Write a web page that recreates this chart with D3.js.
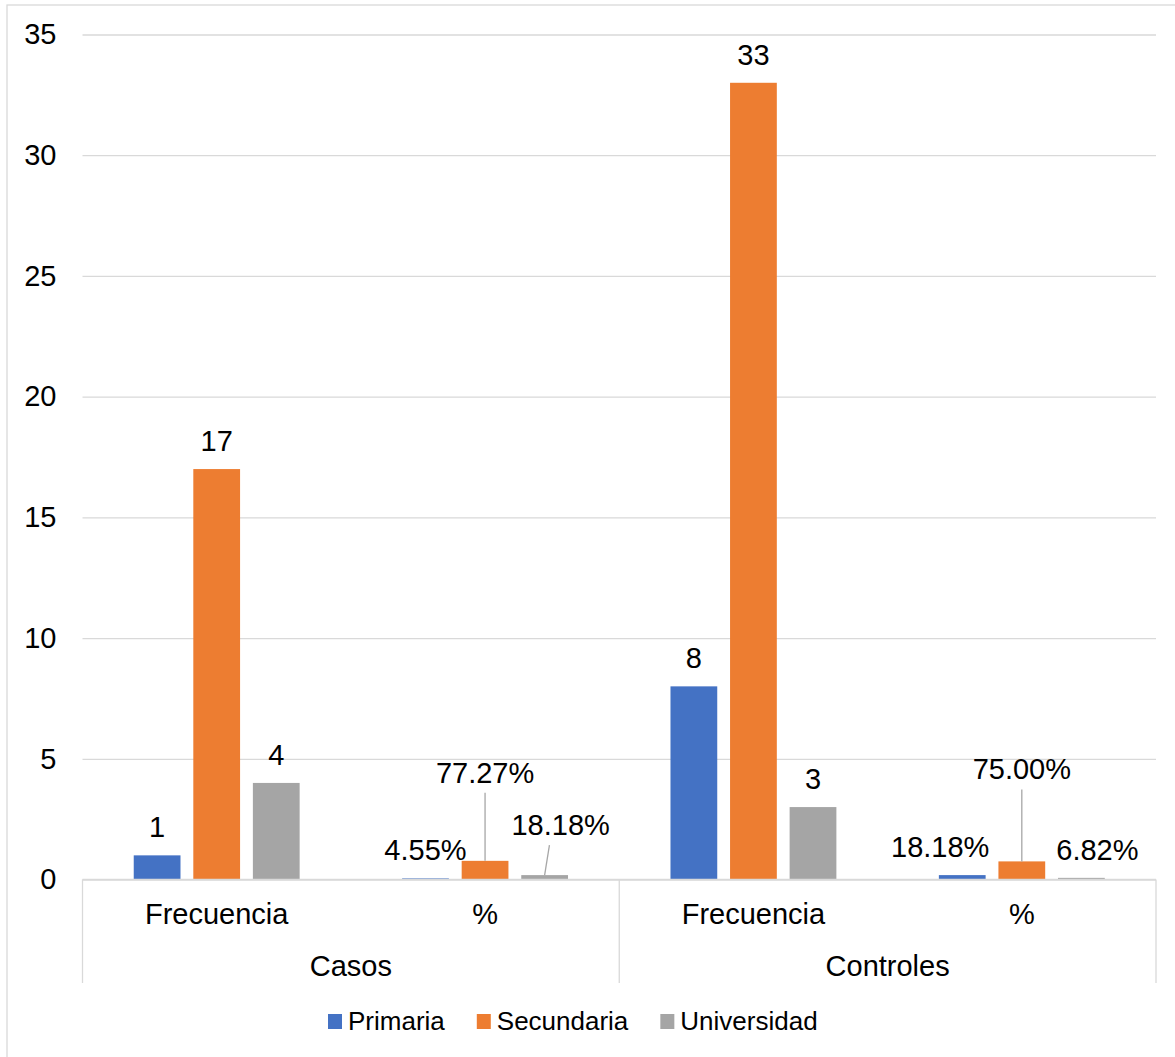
<!DOCTYPE html>
<html><head><meta charset="utf-8">
<script src="https://cdn.jsdelivr.net/npm/d3@7"></script>
<style>body{margin:0;background:#fff}svg{display:block;font-family:"Liberation Sans",Arial,sans-serif}</style>
</head><body><svg id="c" width="1175" height="1057"></svg>
<script>
const groups = ["Casos", "Controles"];
const subcats = ["Frecuencia", "%"];
const categories = ["Casos|Frecuencia", "Casos|%", "Controles|Frecuencia", "Controles|%"];
const series = ["Primaria", "Secundaria", "Universidad"];
const primaria = [1, 0.0455, 8, 0.1818];
const secundaria = [17, 0.7727, 33, 0.75];
const universidad = [4, 0.1818, 3, 0.0682];
const labelText = [
  ["1", "4.55%", "8", "18.18%"],
  ["17", "77.27%", "33", "75.00%"],
  ["4", "18.18%", "3", "6.82%"]
];
const yTicks = [0, 5, 10, 15, 20, 25, 30, 35];
const colors = ["#4472C4", "#ED7D31", "#A5A5A5"];
// manual label placement offsets (style): [seriesIdx][catIdx] -> [dx, dy, leader]
const labelOffsets = [
  [[0,0,0],[0,0,0],[0,0,0],[-22,0,0]],
  [[0,0,0],[0,-60,1],[0,0,0],[0,-64,1]],
  [[0,0,0],[16,-22,1],[0,0,0],[16,0,0]]
];
const values = [primaria, secundaria, universidad];

const svg = d3.select("#c");
const L = 82.5, R = 1156, T = 34.5, B = 879.5;
const FS = 29;

svg.append("rect").attr("x", 7).attr("y", 5).attr("width", 1190).attr("height", 1070)
  .attr("fill", "#fff").attr("stroke", "#d9d9d9").attr("stroke-width", 1.3);

const y = d3.scaleLinear().domain([0, 35]).range([B, T]);
const x0 = d3.scaleBand().domain(categories).range([L, R]).padding(0);
const x1 = d3.scaleBand().domain(series).range([0, x0.bandwidth()]).paddingInner(0.215).paddingOuter(0.86);

// gridlines
const yAxis = d3.axisLeft(y).tickValues(yTicks).tickSize(-(R - L)).tickPadding(26).tickFormat(d3.format("d"));
const ga = svg.append("g").attr("transform", `translate(${L},0)`).call(yAxis);
ga.select(".domain").remove();
ga.selectAll(".tick line").attr("stroke", "#d9d9d9").attr("stroke-width", 1.3);
ga.selectAll(".tick text").attr("font-size", FS).attr("fill", "#000").attr("font-family", "Liberation Sans, Arial, sans-serif");

// bars
series.forEach((s, si) => {
  svg.append("g").selectAll("rect").data(values[si]).join("rect")
    .attr("x", (d, i) => x0(categories[i]) + x1(s))
    .attr("width", x1.bandwidth())
    .attr("y", d => y(d))
    .attr("height", d => Math.max(0, B - y(d)))
    .attr("fill", colors[si]);
});

// x axis line and hierarchical dividers
svg.append("line").attr("x1", L).attr("x2", R).attr("y1", B).attr("y2", B).attr("stroke", "#d9d9d9").attr("stroke-width", 1.3);
[L, x0(categories[2]), R].forEach(xx => {
  svg.append("line").attr("x1", xx).attr("x2", xx).attr("y1", B).attr("y2", 983).attr("stroke", "#d9d9d9").attr("stroke-width", 1.3);
});

// category labels
categories.forEach(c => {
  svg.append("text").attr("x", x0(c) + x0.bandwidth() / 2).attr("y", 924)
    .attr("text-anchor", "middle").attr("font-size", FS).text(c.split("|")[1]);
});
groups.forEach((g, gi) => {
  const a = x0(g + "|" + subcats[0]), b = x0(g + "|" + subcats[1]) + x0.bandwidth();
  svg.append("text").attr("x", (a + b) / 2).attr("y", 976)
    .attr("text-anchor", "middle").attr("font-size", FS).text(g);
});

// data labels
series.forEach((s, si) => {
  values[si].forEach((v, ci) => {
    const cx = x0(categories[ci]) + x1(s) + x1.bandwidth() / 2;
    const top = y(v);
    const [dx, dy, leader] = labelOffsets[si][ci];
    const base = top - 18 + dy;
    svg.append("text").attr("x", cx + dx).attr("y", base)
      .attr("text-anchor", "middle").attr("font-size", FS).text(labelText[si][ci]);
    if (leader) {
      svg.append("line").attr("x1", cx + dx * 0.3).attr("y1", base + 10)
        .attr("x2", cx).attr("y2", top)
        .attr("stroke", "#a6a6a6").attr("stroke-width", 1.3);
    }
  });
});

// legend
const lg = svg.append("g");
let lx = 328;
series.forEach((s, si) => {
  lg.append("rect").attr("x", lx).attr("y", 1014).attr("width", 14).attr("height", 15).attr("fill", colors[si]);
  const t = lg.append("text").attr("x", lx + 20).attr("y", 1030).attr("font-size", 26).text(s);
  lx += 20 + t.node().getComputedTextLength() + 32;
});
</script></body></html>
